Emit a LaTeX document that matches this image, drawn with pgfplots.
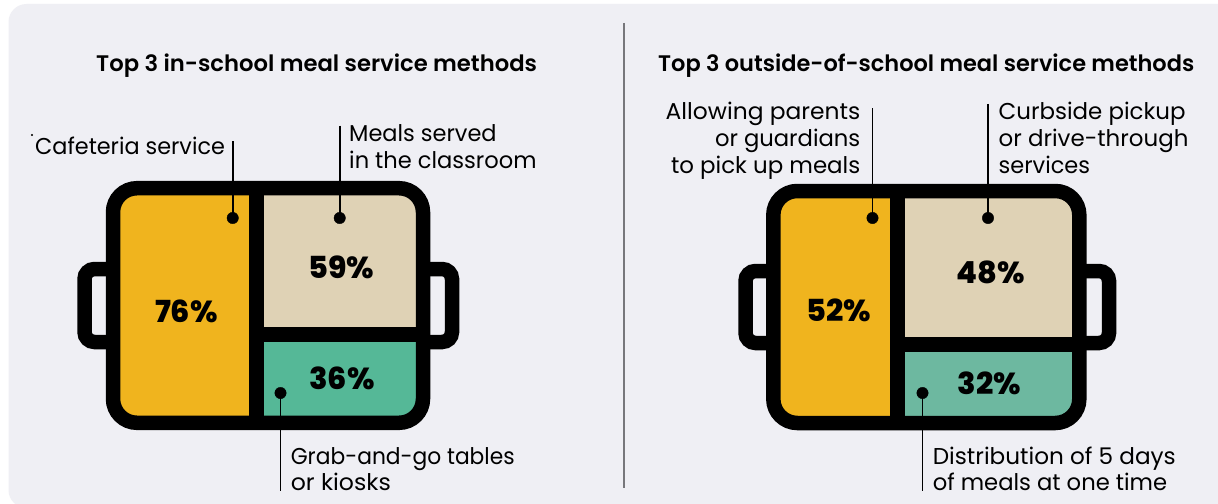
\documentclass[border=0pt]{standalone}
\usepackage{pgfplots}
\pgfplotsset{compat=1.18}
\usepackage{fontspec}
\setmainfont{Poppins}
\newfontfamily\labelfont{Poppins}[Scale=1]
\newfontfamily\titlefont{Poppins}[UprightFont=* SemiBold]
\newfontfamily\valuefont{Poppins}[UprightFont=* ExtraBold]
\definecolor{panel}{HTML}{EFEFF4}
\definecolor{mealyellow}{HTML}{F0B41E}
\definecolor{mealbeige}{HTML}{DFD2B5}
\definecolor{mealgreenA}{HTML}{55B897}
\definecolor{mealgreenB}{HTML}{6DB8A0}
\definecolor{divider}{HTML}{77777B}
\newcommand{\sx}[2]{\scalebox{#1}[1]{#2}}
\begin{document}
\begin{tikzpicture}
\begin{axis}[
  scale only axis, width=1218bp, height=504bp,
  xmin=0, xmax=1218, ymin=0, ymax=504, y dir=reverse,
  hide axis, clip=true,
  every axis plot/.append style={forget plot},
]
% page and panel
\addplot[fill=white, draw=none] coordinates {(0,0) (1218,0) (1218,504) (0,504)} --cycle;
\addplot[fill=panel, draw=none, rounded corners=18bp] coordinates {(8.5,4) (1250,4) (1250,508) (8.5,508)} --cycle;
\addplot[draw=divider, line width=1.6bp] coordinates {(624,23) (624,488)};

% left tray: handles, compartments, frame
\addplot[draw=black, line width=14.5bp, rounded corners=10bp] coordinates {(110,269) (84.5,269) (84.5,342) (110,342)};
\addplot[draw=black, line width=14.5bp, rounded corners=10bp] coordinates {(426,269) (452,269) (452,342) (426,342)};
\addplot[fill=mealyellow, draw=none] coordinates {(118,193) (250,193) (250,417) (118,417)} --cycle;
\addplot[fill=mealbeige, draw=none] coordinates {(263,193) (418,193) (418,328) (263,328)} --cycle;
\addplot[fill=mealgreenA, draw=none] coordinates {(263,341) (418,341) (418,417) (263,417)} --cycle;
\addplot[draw=black, line width=15bp] coordinates {(256.5,188) (256.5,422)};
\addplot[draw=black, line width=15bp] coordinates {(256.5,334.5) (423,334.5)};
\addplot[draw=black, line width=14.5bp, rounded corners=24bp] coordinates {(113,188.2) (423,188.2) (423,422.8) (113,422.8)} --cycle;

% right tray: handles, compartments, frame
\addplot[draw=black, line width=14.5bp, rounded corners=10bp] coordinates {(770,271) (745.5,271) (745.5,343) (770,343)};
\addplot[draw=black, line width=14.5bp, rounded corners=10bp] coordinates {(1082,271) (1109,271) (1109,343) (1082,343)};
\addplot[fill=mealyellow, draw=none] coordinates {(778,196) (891,196) (891,418) (778,418)} --cycle;
\addplot[fill=mealbeige, draw=none] coordinates {(904,196) (1075,196) (1075,338) (904,338)} --cycle;
\addplot[fill=mealgreenB, draw=none] coordinates {(904,351) (1075,351) (1075,418) (904,418)} --cycle;
\addplot[draw=black, line width=15bp] coordinates {(897.5,191) (897.5,423)};
\addplot[draw=black, line width=15bp] coordinates {(897.5,344.5) (1079,344.5)};
\addplot[draw=black, line width=14.5bp, rounded corners=24bp] coordinates {(773.3,191) (1079.3,191) (1079.3,423) (773.3,423)} --cycle;

% leader lines with their dots
\addplot[draw=black, line width=1.6bp] coordinates {(232.7,141) (232.7,218)};
\addplot[draw=black, line width=1.6bp] coordinates {(339.7,125.5) (339.7,218)};
\addplot[draw=black, line width=1.6bp] coordinates {(280.5,393) (280.5,491)};
\addplot[draw=black, line width=1.6bp] coordinates {(872.5,108.5) (872.5,218)};
\addplot[draw=black, line width=1.6bp] coordinates {(988,104) (988,218)};
\addplot[draw=black, line width=1.6bp] coordinates {(922.5,393) (922.5,491)};
\addplot[only marks, mark=*, mark size=5.7bp, mark options={fill=black, draw=none}]
  coordinates {(232.7,218) (339.7,218) (280.5,393) (872.5,218) (988,218) (922.5,393)};
\addplot[only marks, mark=*, mark size=0.8bp, mark options={fill=black!70, draw=none}]
  coordinates {(32,135)};

% panel headings
\tikzset{head/.style={anchor=base west, inner sep=0, font=\titlefont\fontsize{22.6}{26}\selectfont}}
\node[head] at (axis cs:96,72) {\sx{1.008}{Top 3 in-school meal service methods}};
\node[head] at (axis cs:658,72) {\sx{.998}{Top 3 outside-of-school meal service methods}};

% callout text
\tikzset{call/.style={inner sep=0, font=\labelfont\fontsize{23}{27}\selectfont}}
\node[call, anchor=base west] at (axis cs:35,154) {\sx{.975}{Cafeteria service}};
\node[call, anchor=base west] at (axis cs:349,141.7) {\sx{.98}{Meals served}};
\node[call, anchor=base west] at (axis cs:349,168.5) {\sx{.985}{in the classroom}};
\node[call, anchor=base west] at (axis cs:290.6,464) {\sx{.95}{Grab-and-go tables}};
\node[call, anchor=base west] at (axis cs:290.6,490.7) {\sx{1.03}{or kiosks}};
\node[call, anchor=base east] at (axis cs:860.5,119.3) {\sx{1.02}{Allowing parents}};
\node[call, anchor=base east] at (axis cs:860.5,146.7) {\sx{.99}{or guardians}};
\node[call, anchor=base east] at (axis cs:860.5,173.7) {to pick up meals};
\node[call, anchor=base west] at (axis cs:998.5,119.3) {Curbside pickup};
\node[call, anchor=base west] at (axis cs:998.5,146.7) {or drive-through};
\node[call, anchor=base west] at (axis cs:998.5,173.7) {\sx{.98}{services}};
\node[call, anchor=base west] at (axis cs:932.6,464) {\sx{1.01}{Distribution of 5 days}};
\node[call, anchor=base west] at (axis cs:932.6,490.7) {\sx{.99}{of meals at one time}};

% percentages
\tikzset{val/.style={inner sep=0, anchor=base, font=\valuefont\fontsize{30.5}{33}\selectfont}}
\node[val] at (axis cs:186.4,322.7) {76\%};
\node[val] at (axis cs:341,278) {59\%};
\node[val] at (axis cs:342,389.3) {36\%};
\node[val] at (axis cs:839,321.3) {52\%};
\node[val] at (axis cs:991,283.7) {48\%};
\node[val] at (axis cs:989.6,394.7) {32\%};
\end{axis}
\end{tikzpicture}
\end{document}
